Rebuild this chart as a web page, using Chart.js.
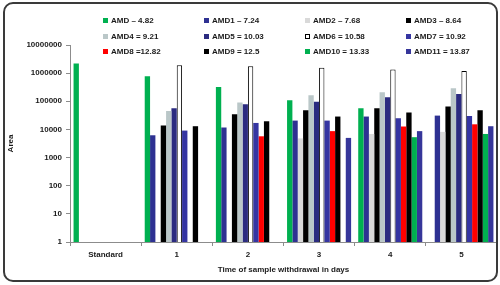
<!DOCTYPE html>
<html>
<head>
<meta charset="utf-8">
<script src="https://cdn.jsdelivr.net/npm/chart.js@4/dist/chart.umd.min.js"></script>
<style>
  html, body { margin: 0; padding: 0; background: #fff; }
  #wrap { position: relative; width: 500px; height: 285px; }
  #chart-area { position: absolute; left: 0; top: 0; }
  #frame {
    position: absolute; left: 3px; top: 2px; width: 491px; height: 276px;
    border: 2px solid #3a3a3a; border-radius: 10px; pointer-events: none;
  }
  #legend {
    position: absolute; left: 103px; top: 13px;
    display: grid; grid-template-columns: repeat(4, 101px); grid-auto-rows: 15.6px;
    font: bold 8px "Liberation Sans", Arial, sans-serif; color: #1a1a1a;
  }
  #legend .item { display: flex; align-items: center; white-space: nowrap; }
  #legend .box { width: 5px; height: 5px; margin-right: 3px; box-sizing: border-box; }
</style>
</head>
<body>
<div id="wrap">
  <canvas id="chart-area" width="500" height="285"></canvas>
  <div id="legend"></div>
  <div id="frame"></div>
</div>
<script>
const categories = ['Standard', '1', '2', '3', '4', '5'];

const seriesNames = [
  'AMD \u2013 4.82', 'AMD1 \u2013 7.24', 'AMD2 \u2013 7.68', 'AMD3 \u2013 8.64',
  'AMD4 = 9.21', 'AMD5 = 10.03', 'AMD6 = 10.58', 'AMD7 = 10.92',
  'AMD8 =12.82', 'AMD9 = 12.5', 'AMD10 = 13.33', 'AMD11 = 13.87'
];

const amd   = [2200000, 770000, 320000, 109000, 56000, null];
const amd1  = [null, 6200, 11700, 20600, 28700, 31000];
const amd2  = [null, null, null, 4800, 6900, 8200];
const amd3  = [null, 13800, 34600, 48000, 56000, 65000];
const amd4  = [null, 45500, 90000, 163000, 210000, 290000];
const amd5  = [null, 56500, 78000, 97000, 138000, 182000];
const amd6  = [null, 1900000, 1740000, 1550000, 1350000, 1180000];
const amd7  = [null, 9100, 17000, 20600, 25000, 30000];
const amd8  = [null, null, 5700, 8700, 12700, 15200];
const amd9  = [null, 13000, 19500, 28700, 39600, 48000];
const amd10 = [null, null, null, null, 5300, 6900];
const amd11 = [null, null, null, 5000, 8700, 13000];

const seriesValues = [amd, amd1, amd2, amd3, amd4, amd5, amd6, amd7, amd8, amd9, amd10, amd11];

const yTicks = [1, 10, 100, 1000, 10000, 100000, 1000000, 10000000];

const colors = [
  '#00b050', '#2e3192', '#d9d9d9', '#000000',
  '#bac7c8', '#2b2b80', '#ffffff', '#3535a2',
  '#ff0000', '#000000', '#00b050', '#36369a'
];

const labelFont = { family: '"Liberation Sans", Arial, sans-serif', size: 8, weight: 'bold' };

// html legend, 4 columns x 3 rows
const legendEl = document.getElementById('legend');
seriesNames.forEach((name, i) => {
  const item = document.createElement('div');
  item.className = 'item';
  const box = document.createElement('span');
  box.className = 'box';
  box.style.background = colors[i];
  if (colors[i] === '#ffffff') box.style.border = '1px solid #000';
  item.appendChild(box);
  item.appendChild(document.createTextNode(name));
  legendEl.appendChild(item);
});

const datasets = seriesValues.map((vals, i) => ({
  label: seriesNames[i],
  data: vals,
  backgroundColor: colors[i],
  borderColor: colors[i] === '#ffffff' ? '#000000' : colors[i],
  borderWidth: colors[i] === '#ffffff' ? 1 : 0,
  categoryPercentage: 0.9,
  barPercentage: 1.0,
}));

new Chart(document.getElementById('chart-area'), {
  type: 'bar',
  data: { labels: categories, datasets },
  options: {
    responsive: false,
    animation: false,
    layout: { padding: { top: 45, right: 3, left: 0, bottom: 0 } },
    plugins: { legend: { display: false }, tooltip: { enabled: false } },
    scales: {
      x: {
        grid: { display: true, offset: true, drawOnChartArea: false, color: '#8c8c8c', tickLength: 4 },
        border: { color: '#8c8c8c' },
        ticks: { color: '#1a1a1a', font: labelFont, padding: 4 },
        title: { display: true, text: 'Time of sample withdrawal in days', color: '#1a1a1a', font: labelFont, padding: { top: 2, bottom: 10 } },
        afterFit: s => { s.height = 43; }
      },
      y: {
        type: 'logarithmic',
        min: 1,
        max: 10000000,
        afterBuildTicks: s => { s.ticks = yTicks.map(v => ({ value: v })); },
        grid: { display: true, drawOnChartArea: false, color: '#8c8c8c', tickLength: 4 },
        border: { color: '#8c8c8c' },
        ticks: { color: '#1a1a1a', font: labelFont, padding: 4, callback: v => String(v) },
        title: { display: true, text: 'Area', color: '#1a1a1a', font: labelFont, padding: { top: 6, bottom: 0 } },
        afterFit: s => { s.width = 70; }
      }
    }
  }
});
</script>
</body>
</html>
